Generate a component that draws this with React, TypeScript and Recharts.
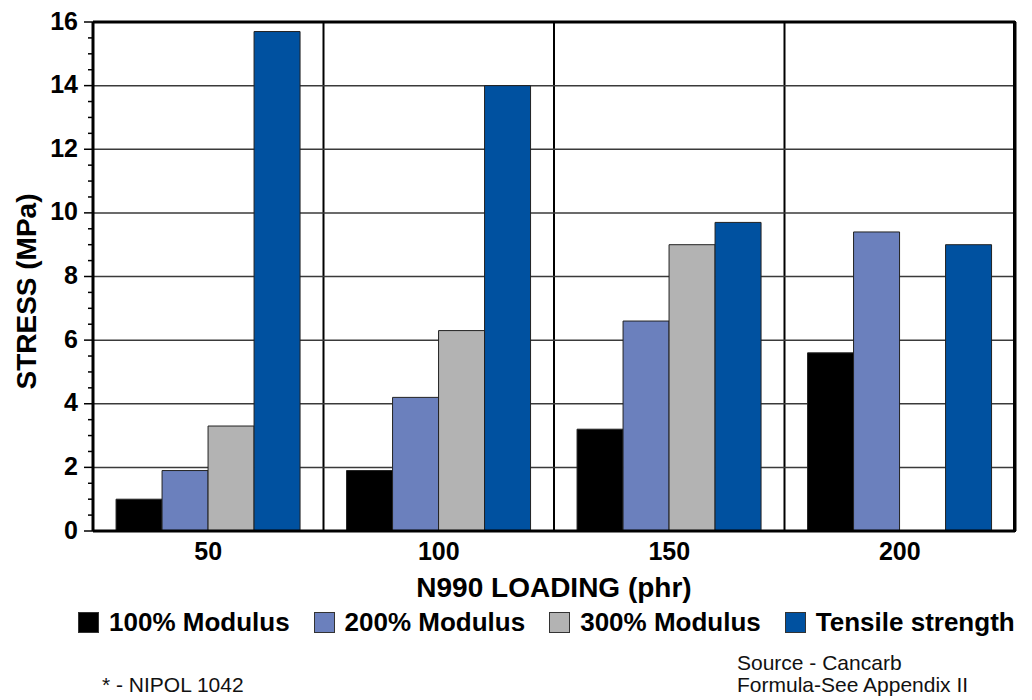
import React from "react";
import {
  Bar,
  BarChart,
  CartesianGrid,
  Legend,
  ReferenceLine,
  XAxis,
  YAxis,
} from "recharts";

const categories = ["50", "100", "150", "200"];
const modulus100 = [1.0, 1.9, 3.2, 5.6];
const modulus200 = [1.9, 4.2, 6.6, 9.4];
const modulus300 = [3.3, 6.3, 9.0, null];
const tensile = [15.7, 14.0, 9.7, 9.0];

const majorTicks = [0, 2, 4, 6, 8, 10, 12, 14, 16];
const minorTicks = [0.5, 1, 1.5, 2.5, 3, 3.5, 4.5, 5, 5.5, 6.5, 7, 7.5, 8.5, 9, 9.5, 10.5, 11, 11.5, 12.5, 13, 13.5, 14.5, 15, 15.5];
const gridLines = [2, 4, 6, 8, 10, 12, 14];

const series = [
  { key: "m100", name: "100% Modulus", color: "#000000" },
  { key: "m200", name: "200% Modulus", color: "#6b80bd" },
  { key: "m300", name: "300% Modulus", color: "#b3b3b3" },
  { key: "tensile", name: "Tensile strength", color: "#0051a0" },
];

const data = categories.map((loading, i) => ({
  loading,
  m100: modulus100[i],
  m200: modulus200[i],
  m300: modulus300[i],
  tensile: tensile[i],
}));

const yTicks = [...majorTicks, ...minorTicks].sort((a, b) => a - b);

const margin = { top: 22, right: 17, left: 0, bottom: 63 };
const chartW = 1032;
const chartH = 700;
const xAxisH = 76;
const legendH = 30;

// vertical separators between the loading groups
const groupEdges = ({ offset }: any) =>
  categories.slice(1).map((_, i) => offset.left + (offset.width * (i + 1)) / categories.length);

const YTick = ({ x, y, payload }: any) => {
  const v = payload.value;
  const major = majorTicks.includes(v);
  return (
    <g>
      <line x1={x} x2={x - (major ? 9 : 5)} y1={y} y2={y} stroke="#000" strokeWidth={1.5} />
      {major && (
        <text x={x - 15} y={y} dy={7.5} textAnchor="end" fontSize={25} fontWeight="bold" fill="#000">
          {v}
        </text>
      )}
    </g>
  );
};

const XTick = ({ x, y, payload }: any) => (
  <text x={x} y={y} dy={29} textAnchor="middle" fontSize={25} fontWeight="bold" fill="#000">
    {payload.value}
  </text>
);

const YLabel = ({ viewBox }: any) => {
  const cx = 26;
  const cy = viewBox.y + viewBox.height / 2 + 15;
  return (
    <text
      x={cx}
      y={cy}
      dy={10}
      transform={`rotate(-90, ${cx}, ${cy})`}
      textAnchor="middle"
      fontSize={28}
      fontWeight="bold"
      fill="#000"
    >
      STRESS (MPa)
    </text>
  );
};

const XLabel = ({ viewBox }: any) => (
  <text
    x={viewBox.x + viewBox.width / 2}
    y={viewBox.y + 66}
    textAnchor="middle"
    fontSize={28}
    fontWeight="bold"
    fill="#000"
  >
    N990 LOADING (phr)
  </text>
);

const renderLegend = () => (
  <div
    style={{
      display: "flex",
      alignItems: "center",
      paddingLeft: 78,
      height: legendH,
      width: chartW,
      boxSizing: "border-box",
      fontSize: 26,
      fontWeight: "bold",
      color: "#000",
      whiteSpace: "nowrap",
    }}
  >
    {series.map((s) => (
      <span
        key={s.key}
        style={{ display: "flex", alignItems: "center", marginRight: 24, flexShrink: 0 }}
      >
        <span
          style={{
            width: 21,
            height: 21,
            background: s.color,
            border: "1px solid #333",
            boxSizing: "border-box",
            marginRight: 10,
            flexShrink: 0,
          }}
        />
        {s.name}
      </span>
    ))}
  </div>
);

const note: React.CSSProperties = {
  position: "absolute",
  fontSize: 21,
  lineHeight: "21px",
  color: "#111",
  whiteSpace: "nowrap",
};

export default function App() {
  const plotBottom = chartH - margin.bottom - legendH - xAxisH;
  return (
    <div
      style={{
        position: "absolute",
        left: 0,
        top: 0,
        width: chartW,
        height: chartH,
        background: "#fff",
        fontFamily: "'Liberation Sans', Arial, sans-serif",
      }}
    >
      <BarChart
        width={chartW}
        height={chartH}
        data={data}
        margin={margin}
        barCategoryGap="10%"
        barGap={0}
      >
        <CartesianGrid
          horizontal={false}
          verticalCoordinatesGenerator={groupEdges}
          stroke="#000"
          strokeWidth={2}
        />
        <XAxis
          dataKey="loading"
          height={xAxisH}
          tickLine={false}
          tickSize={0}
          tickMargin={0}
          axisLine={{ stroke: "#000", strokeWidth: 3 }}
          tick={<XTick />}
          label={<XLabel />}
        />
        <YAxis
          type="number"
          domain={[0, 16]}
          ticks={yTicks}
          interval={0}
          width={93}
          tickLine={false}
          tickSize={0}
          tickMargin={0}
          axisLine={{ stroke: "#000", strokeWidth: 3 }}
          tick={<YTick />}
          label={<YLabel />}
        />
        {gridLines.map((v) => (
          <ReferenceLine key={`h${v}`} y={v} stroke="#3a3a3a" strokeWidth={1.5} zIndex={-10} />
        ))}
        <ReferenceLine y={16} stroke="#000" strokeWidth={3} />
        {series.map((s) => (
          <Bar
            key={s.key}
            dataKey={s.key}
            name={s.name}
            fill={s.color}
            stroke="#222"
            strokeWidth={1}
            isAnimationActive={false}
          />
        ))}
        <ReferenceLine
          x={categories[categories.length - 1]}
          position="end"
          stroke="#000"
          strokeWidth={3}
          ifOverflow="visible"
        />
        <Legend
          verticalAlign="bottom"
          height={legendH}
          width={chartW}
          content={renderLegend}
          wrapperStyle={{ left: 0, width: chartW }}
        />
      </BarChart>
      {/* right edge of the plot frame */}
      <div
        style={{
          position: "absolute",
          left: chartW - margin.right - 2,
          top: margin.top - 1,
          width: 3,
          height: plotBottom - margin.top + 2,
          background: "#000",
          zIndex: 10,
        }}
      />
      <div style={{ ...note, left: 102, top: 674 }}>* - NIPOL 1042</div>
      <div style={{ ...note, left: 737, top: 652 }}>Source - Cancarb</div>
      <div style={{ ...note, left: 737, top: 674 }}>Formula-See Appendix II</div>
    </div>
  );
}
